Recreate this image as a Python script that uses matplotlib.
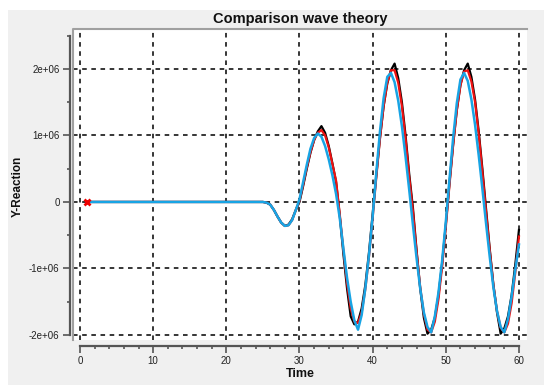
import matplotlib
matplotlib.use("Agg")
import matplotlib.pyplot as plt
from matplotlib.lines import Line2D
from matplotlib.patches import Rectangle
from matplotlib.ticker import FixedLocator, FixedFormatter, MultipleLocator

plt.rcParams['font.family'] = ['Liberation Sans', 'DejaVu Sans']

# ---------------- data ----------------
time = [1, 25, 25.5, 26, 26.5, 27, 27.5, 28, 28.5, 29, 29.5,
        30, 30.5, 31, 31.5, 32, 32.5, 33, 33.5, 34, 34.5,
        35, 35.5, 36, 36.5, 37, 37.5, 38, 38.5, 39, 39.5,
        40, 40.5, 41, 41.5, 42, 42.5, 43, 43.5, 44, 44.5,
        45, 45.5, 46, 46.5, 47, 47.5, 48, 48.5, 49, 49.5,
        50, 50.5, 51, 51.5, 52, 52.5, 53, 53.5, 54, 54.5,
        55, 55.5, 56, 56.5, 57, 57.5, 58, 58.5, 59, 59.5, 60]

# values in units of 1e6
black = [0, 0, -0.01, -0.04, -0.12, -0.22, -0.31, -0.36, -0.34, -0.26, -0.12,
         0.00, 0.24, 0.50, 0.74, 0.93, 1.06, 1.14, 1.04, 0.84, 0.58,
         0.30, -0.20, -0.78, -1.30, -1.72, -1.84, -1.80, -1.60, -1.25, -0.76,
         -0.18, 0.40, 0.96, 1.44, 1.78, 1.98, 2.08, 1.86, 1.50, 1.00,
         0.42, -0.08, -0.72, -1.30, -1.74, -1.98, -1.92, -1.74, -1.40, -0.92,
         -0.34, 0.28, 0.86, 1.38, 1.76, 1.98, 2.08, 1.88, 1.54, 1.06,
         0.50, -0.10, -0.70, -1.24, -1.66, -1.98, -1.90, -1.72, -1.40, -0.94, -0.42]

red = [0, 0, -0.01, -0.04, -0.12, -0.22, -0.31, -0.36, -0.35, -0.27, -0.12,
       0.02, 0.26, 0.52, 0.75, 0.93, 1.04, 1.08, 1.00, 0.82, 0.57,
       0.32, -0.18, -0.72, -1.22, -1.60, -1.80, -1.82, -1.66, -1.31, -0.82,
       -0.24, 0.37, 0.95, 1.44, 1.79, 1.98, 1.98, 1.79, 1.44, 0.95,
       0.37, -0.13, -0.74, -1.28, -1.68, -1.92, -1.96, -1.80, -1.46, -0.97,
       -0.38, 0.25, 0.85, 1.37, 1.75, 1.96, 1.98, 1.81, 1.50, 1.02,
       0.45, -0.15, -0.72, -1.24, -1.64, -1.89, -1.96, -1.83, -1.52, -1.06, -0.52]

blue = [0, 0, -0.01, -0.04, -0.12, -0.22, -0.31, -0.36, -0.35, -0.27, -0.12,
        0.04, 0.30, 0.56, 0.80, 0.96, 1.03, 0.98, 0.84, 0.64, 0.40,
        0.12, -0.24, -0.70, -1.14, -1.50, -1.78, -1.92, -1.70, -1.30, -0.80,
        -0.22, 0.44, 1.06, 1.56, 1.88, 1.94, 1.80, 1.52, 1.14, 0.68,
        0.18, -0.34, -0.84, -1.30, -1.66, -1.88, -1.96, -1.72, -1.36, -0.88,
        -0.30, 0.34, 0.96, 1.48, 1.84, 1.94, 1.82, 1.54, 1.16, 0.70,
        0.20, -0.32, -0.82, -1.28, -1.64, -1.88, -1.96, -1.76, -1.42, -1.02, -0.64]

marker_t = [1]
marker_v = [0]

scale = 1e6
x_major = [0, 10, 20, 30, 40, 50, 60]
x_labels = ["0", "10", "20", "30", "40", "50", "60"]
y_major = [-2e6, -1e6, 0, 1e6, 2e6]
y_labels = ["-2e+06", "-1e+06", "0", "1e+06", "2e+06"]

title = "Comparison wave theory"
xlabel = "Time"
ylabel = "Y-Reaction"

# ---------------- figure ----------------
W, H = 544, 385
fig = plt.figure(figsize=(W / 100, H / 100), dpi=100)
fig.patch.set_facecolor('white')

# grey panel
fig.add_artist(Rectangle((8 / W, 0), 1 - 8 / W, (H - 10) / H,
                         transform=fig.transFigure, facecolor='#f0f0f0',
                         edgecolor='none', zorder=-10))

ax_l, ax_r, ax_t, ax_b = 73, 527, 29, 340
ax = fig.add_axes([ax_l / W, (H - ax_b) / H, (ax_r - ax_l) / W, (ax_b - ax_t) / H])
ax.set_facecolor('white')

ax.set_xlim(-0.96, 61.1)
ax.set_ylim(-2.075e6, 2.60e6)

# grid
for xv in x_major:
    ax.axvline(xv, color='black', lw=1.1, ls=(0, (3, 3)), zorder=1)
for yv in y_major:
    ax.axhline(yv, color='black', lw=1.1, ls=(0, (3, 3)), zorder=1)

# series
ax.plot(time, [v * scale for v in black], color='black', lw=1.6, zorder=3)
ax.plot(time, [v * scale for v in red], color='#ee1111', lw=1.6, zorder=4)
ax.plot(time, [v * scale for v in blue], color='#18a4e4', lw=1.8, zorder=5)
ax.plot(marker_t, marker_v, ls='none', marker='x', color='#ee0000',
        ms=5, mew=2, zorder=6, clip_on=False)

# spines
for s in ['top', 'right']:
    ax.spines[s].set_visible(False)
spine_col = '#555555'
ax.spines['left'].set_position(('outward', 2.2))
ax.spines['left'].set_bounds(-2e6, 2.5e6)
ax.spines['left'].set_color(spine_col)
ax.spines['left'].set_linewidth(1.6)
ax.spines['bottom'].set_position(('outward', 4.3))
ax.spines['bottom'].set_bounds(0, 60)
ax.spines['bottom'].set_color(spine_col)
ax.spines['bottom'].set_linewidth(1.6)

ax.xaxis.set_major_locator(FixedLocator(x_major))
ax.xaxis.set_major_formatter(FixedFormatter(x_labels))
ax.xaxis.set_minor_locator(MultipleLocator(2))
ax.yaxis.set_major_locator(FixedLocator(y_major))
ax.yaxis.set_major_formatter(FixedFormatter(y_labels))
ax.yaxis.set_minor_locator(MultipleLocator(0.5e6))

ax.tick_params(which='major', direction='out', length=5, width=1.2,
               color=spine_col, labelsize=7, labelcolor='#222222', pad=2.5)
ax.tick_params(which='minor', direction='out', length=2.5, width=1.2,
               color=spine_col)

# sunken border of the white panel (left and top)
fig.add_artist(Line2D([ax_l / W, ax_l / W, ax_r / W],
                      [(H - ax_b) / H, (H - ax_t) / H, (H - ax_t) / H],
                      transform=fig.transFigure, color='#a0a0a0', lw=1.5))

# texts
fig.text(300 / W, 1 - 19 / H, title, ha='center', va='center',
         fontsize=10.5, fontweight='bold', color='#111111')
fig.text(300 / W, 1 - 374 / H, xlabel, ha='center', va='center',
         fontsize=9, fontweight='bold', color='#111111')
fig.text(18 / W, 1 - 186 / H, ylabel, ha='center', va='center', rotation=90,
         fontsize=8.5, fontweight='bold', color='#111111')

fig.savefig('out.png', dpi=100)
